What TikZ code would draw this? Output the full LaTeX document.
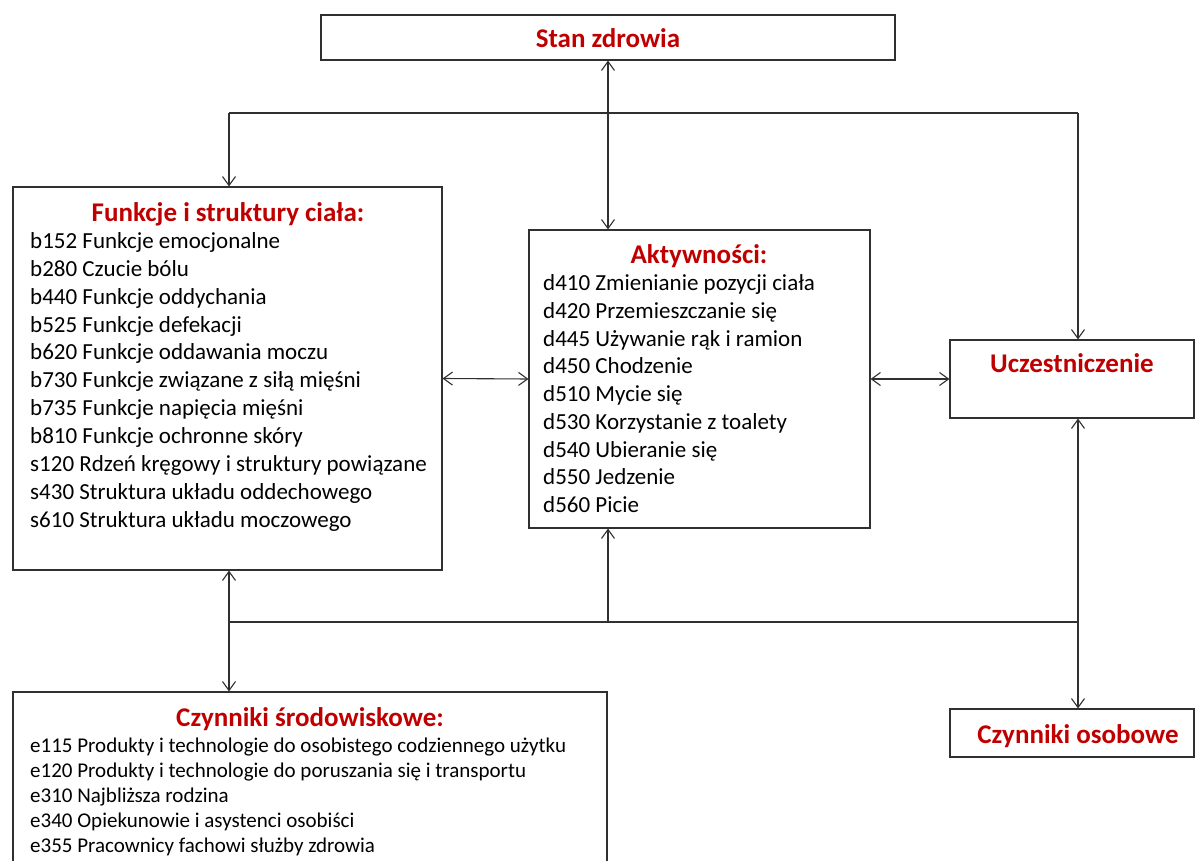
\documentclass[tikz,border=0pt]{standalone}
\usepackage{fontspec}
\setmainfont{Carlito}
\usetikzlibrary{arrows.meta}
\definecolor{titred}{HTML}{C00000}
\definecolor{linec}{HTML}{303030}
\begin{document}
\begin{tikzpicture}[x=1pt,y=-1pt,
  box/.style={draw=linec,line width=1.1pt,rectangle,inner sep=0pt},
  ttl/.style={font=\fontsize{27}{32}\selectfont\bfseries,text=titred,anchor=mid},
  itm/.style={font=\fontsize{23}{28}\selectfont,anchor=mid west,inner sep=0pt},
  eitm/.style={font=\fontsize{21}{25}\selectfont,anchor=mid west,inner sep=0pt},
  conn/.style={draw=linec,line width=1.1pt},
  arr/.style={conn,-{Straight Barb[length=9pt,width=13pt]}},
  darr/.style={conn,{Straight Barb[length=9pt,width=13pt]}-{Straight Barb[length=9pt,width=13pt]}}]
\useasboundingbox (0,0) rectangle (1195,861);
\fill[white] (0,0) rectangle (1195,861);
% boxes
\node[box,minimum width=574pt,minimum height=45pt] (stan) at (608,37.5) {};
\node[box,minimum width=429pt,minimum height=383pt] (fun) at (227.5,378.5) {};
\node[box,minimum width=341pt,minimum height=298pt] (akt) at (699.5,379) {};
\node[box,minimum width=244pt,minimum height=78pt] (ucz) at (1072,379) {};
\node[box,minimum width=594pt,minimum height=178pt] (sro) at (310,781) {};
\node[box,minimum width=244pt,minimum height=48pt] (oso) at (1072,733) {};
% titles
\node[ttl] (tstan) at (608,45) {Stan zdrowia};
\node[ttl] (tfun) at (228,219) {Funkcje i struktury ciała:};
\node[ttl] (takt) at (699,261) {Aktywności:};
\node[ttl] (tucz) at (1072,370) {Uczestniczenie};
\node[ttl] (tsro) at (310,724) {Czynniki środowiskowe:};
\node[ttl] (toso) at (1078,741) {Czynniki osobowe};
% Funkcje items
\node[itm] (f1) at (30,246) {b152 Funkcje emocjonalne};
\node[itm] (f2) at (30,274) {b280 Czucie bólu};
\node[itm] (f3) at (30,302) {b440 Funkcje oddychania};
\node[itm] (f4) at (30,330) {b525 Funkcje defekacji};
\node[itm] (f5) at (30,357) {b620 Funkcje oddawania moczu};
\node[itm] (f6) at (30,385) {b730 Funkcje związane z siłą mięśni};
\node[itm] (f7) at (30,413) {b735 Funkcje napięcia mięśni};
\node[itm] (f8) at (30,441) {b810 Funkcje ochronne skóry};
\node[itm] (f9) at (30,469) {s120 Rdzeń kręgowy i struktury powiązane};
\node[itm] (f10) at (30,497) {s430 Struktura układu oddechowego};
\node[itm] (f11) at (30,525) {s610 Struktura układu moczowego};
% Aktywnosci items
\node[itm] (a1) at (543,288) {d410 Zmienianie pozycji ciała};
\node[itm] (a2) at (543,316) {d420 Przemieszczanie się};
\node[itm] (a3) at (543,344) {d445 Używanie rąk i ramion};
\node[itm] (a4) at (543,371) {d450 Chodzenie};
\node[itm] (a5) at (543,399) {d510 Mycie się};
\node[itm] (a6) at (543,427) {d530 Korzystanie z toalety};
\node[itm] (a7) at (543,455) {d540 Ubieranie się};
\node[itm] (a8) at (543,482) {d550 Jedzenie};
\node[itm] (a9) at (543,510) {d560 Picie};
% Srodowiskowe items
\node[eitm] (e1) at (30,750) {e115 Produkty i technologie do osobistego codziennego użytku};
\node[eitm] (e2) at (30,775) {e120 Produkty i technologie do poruszania się i transportu};
\node[eitm] (e3) at (30,800) {e310 Najbliższa rodzina};
\node[eitm] (e4) at (30,825) {e340 Opiekunowie i asystenci osobiści};
\node[eitm] (e5) at (30,850) {e355 Pracownicy fachowi służby zdrowia};
% junction coordinates
\coordinate (t1) at (229,113);
\coordinate (t2) at (1078,113);
\coordinate (b1) at (229,622);
\coordinate (b2) at (1078,622);
\coordinate (b3) at (608,622);
% connectors
\draw[darr] (stan.south) -- (stan.south |- akt.north);
\draw[conn] (t1) -- (t2);
\draw[arr] (t1) -- (t1 |- fun.north);
\draw[arr] (t2) -- (t2 |- ucz.north);
\draw[darr] (fun.east) -- (akt.west);
\draw[darr] (akt.east) -- (ucz.west);
\draw[conn] (b1) -- (b2);
\draw[darr] (b1 |- fun.south) -- (b1 |- sro.north);
\draw[arr] (b3) -- (b3 |- akt.south);
\draw[darr] (b2 |- ucz.south) -- (b2 |- oso.north);
\end{tikzpicture}
\end{document}
